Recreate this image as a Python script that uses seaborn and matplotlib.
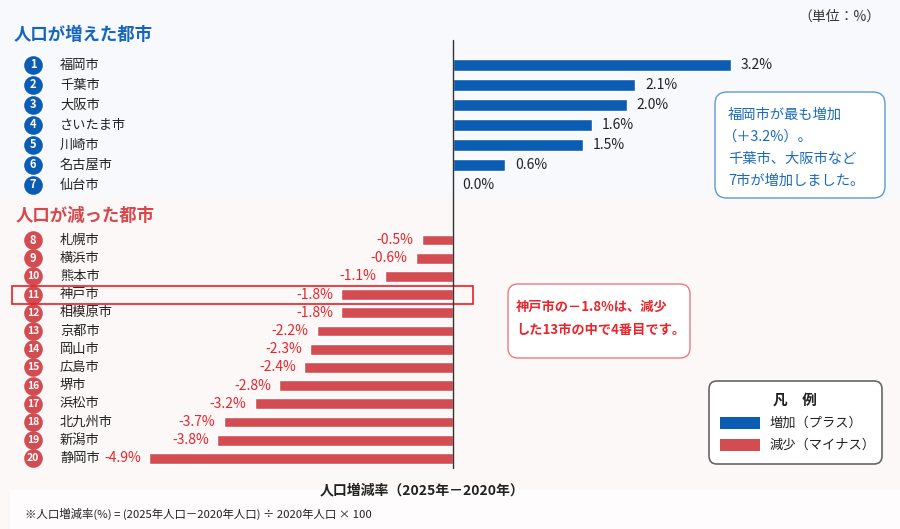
import numpy as np
import pandas as pd
import matplotlib
matplotlib.use('Agg')
import matplotlib.pyplot as plt
import seaborn as sns
from matplotlib.patches import Rectangle, FancyBboxPatch
from matplotlib.lines import Line2D

# Data
up_cities = ['福岡市', '千葉市', '大阪市', 'さいたま市', '川崎市', '名古屋市', '仙台市']
up_values = [3.2, 2.1, 2.0, 1.6, 1.5, 0.6, 0.0]
down_cities = ['札幌市', '横浜市', '熊本市', '神戸市', '相模原市', '京都市', '岡山市',
               '広島市', '堺市', '浜松市', '北九州市', '新潟市', '静岡市']
down_values = [-0.5, -0.6, -1.1, -1.8, -1.8, -2.2, -2.3, -2.4, -2.8, -3.2, -3.7, -3.8, -4.9]
highlight_city = '神戸市'

BLUE = '#0b5db3'
RED = '#d34c52'
RED_TXT = '#e8252b'
BLUE_TXT = '#1a6bbf'

sns.set_theme(style='white')
plt.rcParams['font.family'] = ['Noto Sans CJK JP', 'DejaVu Sans']

W, H = 900, 529
fig = plt.figure(figsize=(9, 5.29), dpi=100)


def fy(py):
    return 1 - py / H


# background bands
fig.patches.append(Rectangle((0, fy(198)), 1, 198 / H, transform=fig.transFigure,
                             facecolor='#f7f9fc', edgecolor='none', zorder=-10))
fig.patches.append(Rectangle((0, 0), 1, fy(198), transform=fig.transFigure,
                             facecolor='#fdf8f8', edgecolor='none', zorder=-10))
fig.patches.append(Rectangle((10 / W, 0), 1, fy(490), transform=fig.transFigure,
                             facecolor='#fefcfc', edgecolor='none', zorder=-9))

ZERO = 453
# top panel: increasing cities (row pitch 20 px)
ax_up = fig.add_axes([0, fy(195), 1, 140 / H])
# bottom panel: decreasing cities (row pitch ~18.2 px)
ax_dn = fig.add_axes([0, fy(467.5), 1, 236.6 / H])

panels = [
    (ax_up, up_cities, up_values, BLUE, 86.9, 1),
    (ax_dn, down_cities, down_values, RED, 62.0, len(up_cities) + 1),
]

for ax, cities, values, color, scale, start in panels:
    df = pd.DataFrame({'city': cities, 'value': values})
    sns.barplot(data=df, x='value', y='city', orient='h', color=color,
                saturation=1, width=0.6, errorbar=None, ax=ax)
    ax.set_xlim(-ZERO / scale, (W - ZERO) / scale)
    ax.set_ylim(len(cities) - 0.5, -0.5)
    ax.axis('off')
    ax.patch.set_alpha(0)
    ytr = ax.get_yaxis_transform()
    for i, (c, v) in enumerate(zip(cities, values)):
        ax.scatter([33 / W], [i], s=180, color=color, transform=ytr,
                   clip_on=False, zorder=3, linewidths=0)
        ax.text(33 / W, i, str(start + i), transform=ytr, ha='center', va='center',
                color='white', fontsize=7.5 if start + i >= 10 else 8,
                fontweight='bold', zorder=4)
        ax.text(60 / W, i, c, transform=ytr, ha='left', va='center',
                fontsize=9.5, color='#222222')
        if v >= 0:
            ax.annotate(f'{v:.1f}%', xy=(v, i), xytext=(7, 0), textcoords='offset points',
                        ha='left', va='center', fontsize=10, color='#222222')
        else:
            ax.annotate(f'{v:.1f}%', xy=(v, i), xytext=(-6, 0), textcoords='offset points',
                        ha='right', va='center', fontsize=10, color=RED_TXT)
    if highlight_city in cities:
        k = cities.index(highlight_city)
        ax.add_patch(Rectangle((12 / W, k - 0.45), (473 - 12) / W, 0.97, transform=ytr,
                               fill=False, edgecolor='#ee1c25', lw=1.2, clip_on=False, zorder=5))

# zero line across both panels
fig.add_artist(Line2D([ZERO / W, ZERO / W], [fy(40), fy(468)], color='#333333', lw=1,
                      transform=fig.transFigure))

# overlay in pixel coords for headings, notes and legend
ov = fig.add_axes([0, 0, 1, 1])
ov.set_xlim(0, W)
ov.set_ylim(H, 0)
ov.axis('off')
ov.patch.set_alpha(0)

ov.text(881, 17, '（単位：%）', ha='right', va='center', fontsize=10, color='#333333')
ov.text(14, 35, '人口が増えた都市', ha='left', va='center', fontsize=12.5,
        fontweight='bold', color='#1565c0')
ov.text(16, 216, '人口が減った都市', ha='left', va='center', fontsize=12.5,
        fontweight='bold', color='#d9474c')

# blue note
ov.add_patch(FancyBboxPatch((715, 92), 170, 106, boxstyle='round,pad=0,rounding_size=12',
                            facecolor='white', edgecolor='#5b9bd5', lw=1))
note_lines = ['福岡市が最も増加', '（＋3.2%）。', '千葉市、大阪市など', '7市が増加しました。']
for j, line in enumerate(note_lines):
    x0 = 722 if line.startswith('（') else 728
    ov.text(x0, 115 + 22 * j, line, ha='left', va='center', fontsize=10.3, color=BLUE_TXT)

# red note
ov.add_patch(FancyBboxPatch((508, 284), 182, 74, boxstyle='round,pad=0,rounding_size=10',
                            facecolor='white', edgecolor='#ec7a80', lw=1))
for j, line in enumerate(['神戸市の－1.8%は、減少', 'した13市の中で4番目です。']):
    ov.text(516, 307 + 23 * j, line, ha='left', va='center', fontsize=9.5,
            fontweight='bold', color=RED_TXT)

# legend
ov.add_patch(FancyBboxPatch((709, 381), 173, 83, boxstyle='round,pad=0,rounding_size=8',
                            facecolor='white', edgecolor='#666666', lw=1.2))
ov.text(795, 399, '凡　例', ha='center', va='center', fontsize=10.5, fontweight='bold',
        color='#222222')
ov.add_patch(Rectangle((720, 417), 40, 12, facecolor=BLUE, edgecolor='none'))
ov.add_patch(Rectangle((720, 439), 40, 12, facecolor=RED, edgecolor='none'))
ov.text(770, 423, '増加（プラス）', ha='left', va='center', fontsize=9.5, color='#222222')
ov.text(770, 445, '減少（マイナス）', ha='left', va='center', fontsize=9.5, color='#222222')

# axis title and footnote
ov.text(422, 490, '人口増減率（2025年－2020年）', ha='center', va='center', fontsize=10,
        fontweight='bold', color='#222222')
ov.text(25, 514, '※人口増減率(%) = (2025年人口－2020年人口) ÷ 2020年人口 × 100',
        ha='left', va='center', fontsize=8.2, color='#222222')

fig.savefig('out.png', dpi=100)
plt.close(fig)
